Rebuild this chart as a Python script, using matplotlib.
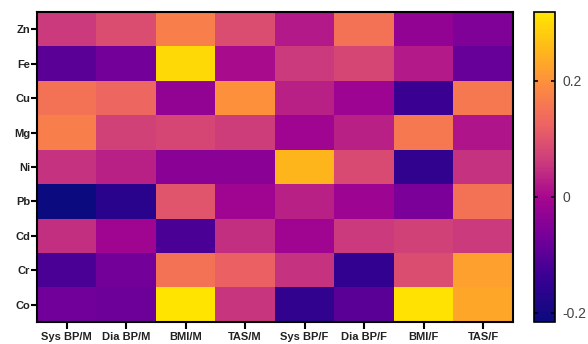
import numpy as np
import matplotlib
matplotlib.use("Agg")
import matplotlib.pyplot as plt
from matplotlib.colors import LinearSegmentedColormap

rows = ["Zn", "Fe", "Cu", "Mg", "Ni", "Pb", "Cd", "Cr", "Co"]
cols = ["Sys BP/M", "Dia BP/M", "BMI/M", "TAS/M", "Sys BP/F", "Dia BP/F", "BMI/F", "TAS/F"]

zn = [0.06, 0.09, 0.17, 0.09, 0.02, 0.15, -0.03, -0.055]
fe = [-0.10, -0.07, 0.30, 0.005, 0.06, 0.08, 0.02, -0.085]
cu = [0.15, 0.13, -0.03, 0.20, 0.03, -0.015, -0.14, 0.16]
mg = [0.17, 0.07, 0.08, 0.065, -0.01, 0.03, 0.16, 0.015]
ni = [0.05, 0.03, -0.04, -0.04, 0.25, 0.085, -0.155, 0.05]
pb = [-0.215, -0.165, 0.10, -0.01, 0.03, -0.015, -0.06, 0.15]
cd = [0.045, -0.01, -0.12, 0.045, -0.01, 0.06, 0.07, 0.06]
cr = [-0.12, -0.07, 0.15, 0.12, 0.05, -0.15, 0.09, 0.22]
co = [-0.075, -0.08, 0.315, 0.055, -0.155, -0.10, 0.31, 0.23]

data = np.array([zn, fe, cu, mg, ni, pb, cd, cr, co])
vmin, vmax = -0.216, 0.318
cbar_ticks = [-0.2, 0, 0.2]
cbar_labels = ["-0.2", "0", "0.2"]

cmap = LinearSegmentedColormap.from_list("ref", [
    (0.00, "#0b0a7e"),
    (0.15, "#3c0094"),
    (0.28, "#78009a"),
    (0.40, "#a6068f"),
    (0.52, "#cc3c7c"),
    (0.64, "#ee6462"),
    (0.76, "#fd8a42"),
    (0.88, "#ffb81a"),
    (1.00, "#ffe600"),
])

plt.rcParams['font.family'] = ['Liberation Sans', 'DejaVu Sans']

fig = plt.figure(figsize=(5.88, 3.44), dpi=100)
ax = fig.add_axes([0.063, 0.064, 0.809, 0.901])
im = ax.imshow(data, cmap=cmap, vmin=vmin, vmax=vmax, aspect="auto",
               interpolation="nearest")
ax.set_xticks(range(len(cols)))
ax.set_xticklabels(cols, fontsize=8, fontweight="bold", color="#222222")
ax.set_yticks(range(len(rows)))
ax.set_yticklabels(rows, fontsize=8, fontweight="bold", color="#222222")
ax.tick_params(axis="x", length=5, width=1.5, pad=2)
ax.tick_params(axis="y", length=4, width=1.5, pad=1)
for s in ax.spines.values():
    s.set_linewidth(1.5)

cax = fig.add_axes([0.908, 0.064, 0.036, 0.901])
cb = fig.colorbar(im, cax=cax)
cb.set_ticks(cbar_ticks)
cb.set_ticklabels(cbar_labels)
cax.tick_params(axis="y", direction="in", length=3, width=1.2, left=True, right=True,
                labelsize=10, labelcolor="#444444", pad=5)
cb.outline.set_linewidth(1.2)

fig.savefig("out.png", dpi=100)
